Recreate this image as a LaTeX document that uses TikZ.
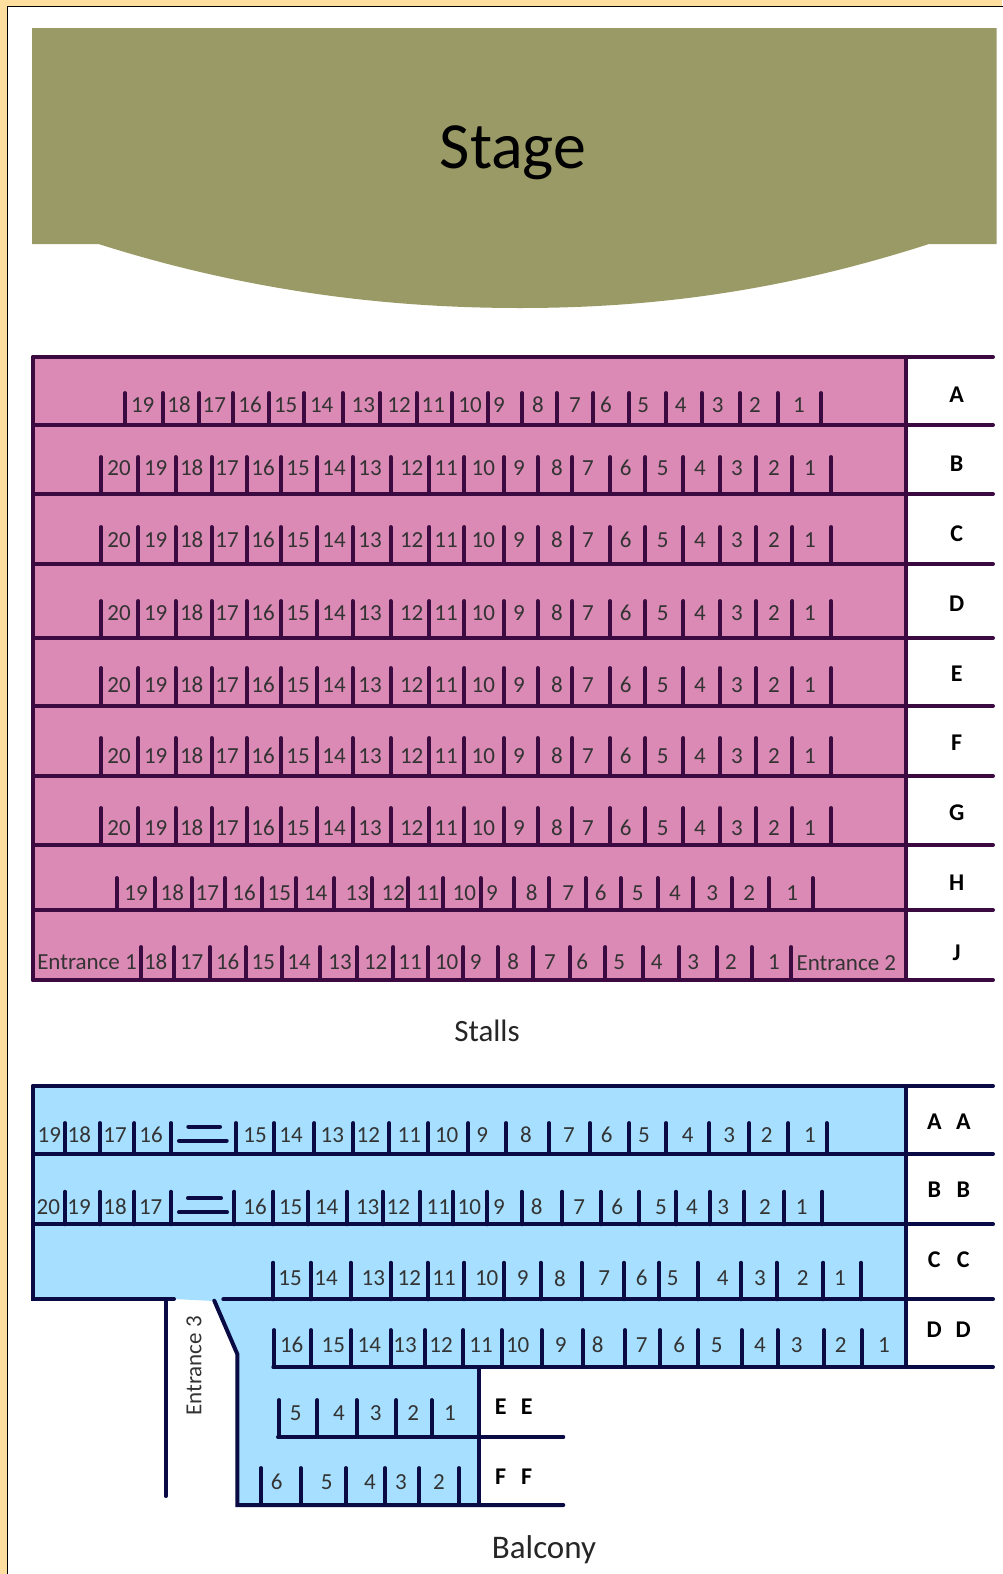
\documentclass[tikz,border=0pt]{standalone}
\usepackage{fontspec}
\setmainfont{Carlito}
\definecolor{pagebg}{HTML}{FFDF9F}
\definecolor{stagecol}{HTML}{9A9A66}
\definecolor{stallscol}{HTML}{DA8AB4}
\definecolor{stallsline}{HTML}{3A0A40}
\definecolor{balconycol}{HTML}{A6DFFF}
\definecolor{balconyline}{HTML}{0A0A45}
\begin{document}
\begin{tikzpicture}[
    x=1pt, y=-1pt,
    wall/.style={line width=4pt, line cap=round},
    tick/.style={line width=3.9pt, line cap=round},
    seat/.style={inner sep=0pt, font=\fontsize{23}{23}\selectfont, text=black!80},
    rowname/.style={inner sep=0pt, font=\fontsize{24}{24}\selectfont\bfseries},
    title/.style={inner sep=0pt, font=\fontsize{31}{31}\selectfont, text=black!85}
]
    \useasboundingbox (0,0) rectangle (1002,1574);
    \fill[pagebg] (0,0) rectangle (1002,1574);
    \fill[white, draw=black, line width=1.6pt] (7.5,6.5) rectangle (1010,1590);

    \fill[stagecol] (32,28) -- (996.5,28) -- (996.5,244) -- (929,244)
        .. controls (780,292) and (650,308) .. (520,308)
        .. controls (390,308) and (250,292) .. (98.5,244) -- (32,244) -- cycle;
    \node[inner sep=0pt, font=\fontsize{66}{66}\selectfont] (stage) at (513,153) {Stage};

    \fill[stallscol] (33,357) rectangle (905.7,980);
    \begin{scope}[draw=stallsline, text=stallsline]
        \draw[wall] (33,357) -- (33,980);
        \draw[wall] (905.7,357) -- (905.7,980);
        \foreach \y in {357,425,494,564,638,706,776,845,910,980}
            \draw[wall] (33,\y) -- (993,\y);

        \foreach \x in {125,162.7,199.3,232.7,269.3,304,342.7,380,416.7,451.7,488.3,522,556.7,593.3,629.3,666,701.7,740,777.7,821}
            \draw[tick] (\x,425) -- (\x,393);
        \foreach \x/\s in {142.7/19,179/18,214.3/17,250/16,285.7/15,321.7/14,363.3/13,399/12,433.3/11,470/10,499/9,538/8,575/7,606/6,643.3/5,680.7/4,717.7/3,755/2,799/1}
            \node[seat] (sa\s) at (\x,405) {\s};

        \foreach \b/\t/\l/\r in {494/457/468/b,564/527/540/c,638/601/613/d,706/668/685/e,776/738/756/f,845/808/828/g}{
            \foreach \x in {101,138.3,175.7,211.7,246.7,281,317.3,352.7,390.7,429.3,464.3,504,537.7,572.3,610,645.3,683.3,720,756,792.3,831}
                \draw[tick] (\x,\b) -- (\x,\t);
            \foreach \x/\s in {119/20,155.7/19,191.7/18,227/17,263/16,298/15,334/14,370/13,411.7/12,446/11,483.3/10,519/9,557/8,588/7,625.7/6,662.7/5,700/4,737/3,774/2,810/1}
                \node[seat] (s\r\s) at (\x,\l) {\s};
        }

        \foreach \x in {116.7,155,191.7,225,261.7,296,334.3,371.7,408.3,443.3,480.7,514,548.7,585.7,620.7,657.7,693.3,731.7,769,812.7}
            \draw[tick] (\x,910) -- (\x,878);
        \foreach \x/\s in {136/19,172.3/18,207.3/17,244/16,279.3/15,315.7/14,357.3/13,393.3/12,427.7/11,464.3/10,492/9,531.7/8,568.3/7,600.7/6,637.7/5,675/4,712.3/3,749.3/2,792.3/1}
            \node[seat] (sh\s) at (\x,893) {\s};

        \foreach \x in {141,174.3,210,245.7,282.3,320,356.7,393.3,428.3,463.3,497.7,533.3,570,605.3,642.7,679.3,716.7,751.7,791}
            \draw[tick] (\x,980) -- (\x,947);
        \foreach \x/\s in {155.7/18,191.7/17,227.7/16,263.3/15,299/14,340/13,375.7/12,410/11,446.7/10,475.7/9,513.3/8,550/7,582.3/6,619.3/5,656.7/4,693.3/3,731/2,774/1}
            \node[seat] (sj\s) at (\x,962) {\s};
        \node[seat] (ent1) at (87,962) {Entrance 1};
        \node[seat] (ent2) at (846.3,963) {Entrance 2};
    \end{scope}
    \foreach \s/\y in {A/395,B/464,C/534,D/604,E/674,F/743,G/813,H/883,J/953}
        \node[rowname] (r\s) at (956.7,\y) {\s};
    \node[title] (stalls) at (487,1031) {Stalls};

    \fill[balconycol] (33,1086) -- (905.7,1086) -- (905.7,1367) -- (478.7,1367) -- (478.7,1505)
        -- (237.3,1505) -- (237.3,1354) -- (214.3,1301) -- (174,1299) -- (33,1299) -- cycle;
    \begin{scope}[draw=balconyline, text=balconyline]
        \foreach \y in {1086,1154,1224.3}
            \draw[wall] (33,\y) -- (993,\y);
        \draw[wall] (33,1086) -- (33,1299) -- (174,1299);
        \draw[wall] (223.3,1299.3) -- (993,1299.3);
        \draw[wall] (273.3,1367) -- (993,1367);
        \draw[wall] (278,1437) -- (563.3,1437);
        \draw[wall] (905.7,1086) -- (905.7,1367);
        \draw[wall] (478.7,1367) -- (478.7,1505);
        \draw[wall] (165.7,1299) -- (165.7,1496);
        \draw[wall] (214.3,1300.7) -- (237.3,1354) -- (237.3,1505) -- (563.3,1505);

        \foreach \x in {65,100,134.3,171,236,274,314.3,353.3,389.3,428.3,468.3,506,549,590,629.3,666,709.3,749.3,788.3,826.7}
            \draw[tick] (\x,1154) -- (\x,1123);
        \foreach \x/\s in {49.3/19,79.3/18,115/17,151/16,255/15,291/14,332.3/13,368.3/12,409.3/11,446.7/10,482.3/9,526/8,569/7,606.7/6,644/5,687.7/4,729.3/3,766.7/2,810/1}
            \node[seat] (ba\s) at (\x,1135) {\s};
        \draw[wall] (188.3,1126.7) -- (220,1126.7);
        \draw[wall] (179,1140.7) -- (226.7,1140.7);

        \foreach \x in {65,100,134.3,171,234.3,273.3,308.3,347.3,382.7,420,452.7,487.3,521.7,562.3,600.7,639.3,676,710,744.3,784.3,822.3}
            \draw[tick] (\x,1224.3) -- (\x,1191.7);
        \foreach \x/\s in {48.3/20,79/19,115/18,150.7/17,255/16,290.7/15,326.7/14,367.7/13,398.3/12,438.3/11,469.3/10,499/9,536.7/8,579.3/7,617.3/6,661/5,692/4,723.3/3,765/2,801.7/1}
            \node[seat] (bb\s) at (\x,1206.7) {\s};
        \draw[wall] (188,1198.3) -- (221,1198.3);
        \draw[wall] (179,1212.3) -- (227,1212.3);

        \foreach \x in {273.3,310.7,350.7,390.7,427.7,464.3,504,540.7,581.7,624,659.3,697.7,741,776.7,823.3,861}
            \draw[tick] (\x,1299.3) -- (\x,1262.7);
        \foreach \x/\s in {290/15,326/14,373.3/13,409.3/12,444/11,486.7/10,522.7/9,560/8,604.3/7,641.7/6,672.7/5,722.7/4,760/3,802.7/2,840/1}
            \node[seat] (bc\s) at (\x,1278.3) {\s};

        \foreach \x in {274,311,351,390.7,425,463.3,501.7,541.7,582.7,625,660,698.3,741.7,777.7,824,861.7}
            \draw[tick] (\x,1367) -- (\x,1330);
        \foreach \x/\s in {291.7/16,333.3/15,369.3/14,405/13,441/12,481/11,517.7/10,560.7/9,597.7/8,641.7/7,679.3/6,716.7/5,760/4,796.7/3,840.7/2,884/1}
            \node[seat] (bd\s) at (\x,1345) {\s};

        \foreach \x in {279,317.3,356.7,396.3,431.7}
            \draw[tick] (\x,1437) -- (\x,1400);
        \foreach \x/\s in {295.7/5,339/4,375.7/3,413.3/2,450/1}
            \node[seat] (be\s) at (\x,1413) {\s};

        \foreach \x in {261,300.7,346,385,419.3,459}
            \draw[tick] (\x,1505) -- (\x,1468);
        \foreach \x/\s in {276.7/6,326.7/5,370/4,401/3,439/2}
            \node[seat] (bf\s) at (\x,1482) {\s};
    \end{scope}
    \foreach \s/\y in {A/1122,B/1190,C/1260,D/1330}{
        \node[rowname] (l\s) at (934.3,\y) {\s};
        \node[rowname] (m\s) at (963.3,\y) {\s};
    }
    \foreach \s/\y in {E/1407,F/1477}{
        \node[rowname] (l\s) at (500.7,\y) {\s};
        \node[rowname] (m\s) at (526.7,\y) {\s};
    }
    \node[seat, rotate=90] (ent3) at (194,1366) {Entrance 3};
    \node[title, font=\fontsize{33}{33}\selectfont] (balcony) at (544,1550) {Balcony};
\end{tikzpicture}
\end{document}
